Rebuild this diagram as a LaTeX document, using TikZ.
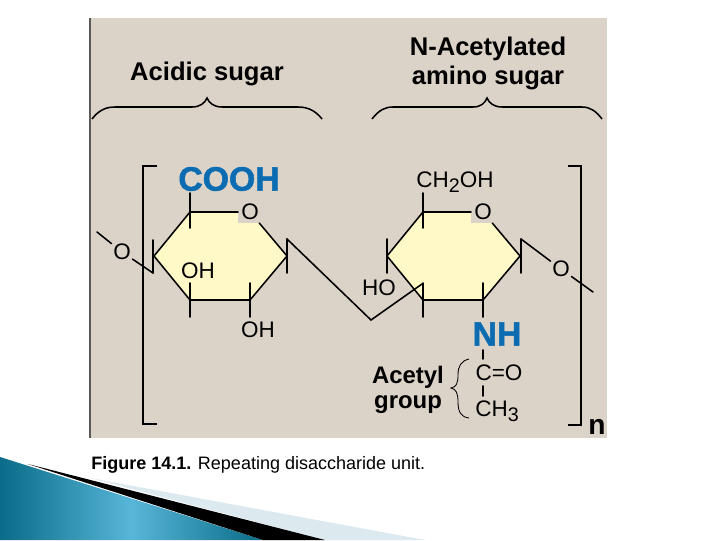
\documentclass[tikz,border=0pt]{standalone}
\usepackage{fontspec}
\setmainfont{Liberation Sans}
\newfontfamily\heavyfont[FakeBold=1.5]{Liberation Sans Bold}
\usepackage{tikz}
\definecolor{panelc}{HTML}{DBD2C8}
\definecolor{ringc}{HTML}{FFF9C8}
\definecolor{bluec}{HTML}{0B6CB2}
\definecolor{tealc}{HTML}{0A6C88}
\definecolor{skyc}{HTML}{58B6D8}
\definecolor{paleblue}{HTML}{DCEAF0}
\newcommand{\lowidx}[1]{\raisebox{-0.45ex}{\fontsize{14}{14}\selectfont #1}}
\tikzset{
	bond/.style={line width=1.1pt,line cap=round},
	bracket/.style={line width=1.7pt},
	curly/.style={line width=1.1pt},
	atom/.style={font=\fontsize{16}{16}\selectfont,inner sep=1pt},
	ringO/.style={atom,fill=panelc,inner sep=2pt},
	heading/.style={font=\fontsize{18.2}{20.6}\selectfont\bfseries,align=center,inner sep=0pt},
	strong/.style={font=\fontsize{24}{24}\selectfont\heavyfont,text=bluec,inner sep=1pt},
}
\begin{document}
\begin{tikzpicture}[x=0.025cm,y=-0.025cm]
	\useasboundingbox (0,0) rectangle (720,540);
	\fill[white] (0,0) rectangle (720,540);
	\fill[panelc] (90,18) rectangle (607,438);
	\draw[line width=0.8pt,black!65] (90,18)--(90,438);
	\shade[left color=tealc,right color=tealc,middle color=skyc] (0,457)--(263,540)--(0,540)--cycle;
	\fill[paleblue] (90,478)--(425,540)--(325,540)--cycle;
	\fill[black] (28,464)--(325,540)--(263,540)--cycle;
	\node[heading] (acidic) at (207,74) {Acidic sugar};
	\node[heading] (acetylated) at (488,63) {N-Acetylated\\amino sugar};
	\draw[curly] (92,119) .. controls (99,110) and (106,107) .. (115,107)--(192,107) .. controls (200,107) and (205,103) .. (207,98) .. controls (209,103) and (214,107) .. (222,107)--(298,107) .. controls (307,107) and (315,110) .. (322,119);
	\draw[curly] (372,119) .. controls (379,110) and (385,107) .. (393,107)--(473,107) .. controls (481,107) and (485,103) .. (487,98) .. controls (489,103) and (494,107) .. (502,107)--(582,107) .. controls (590,107) and (596,111) .. (602,119);
	\draw[bracket] (157,166)--(143,166)--(143,424)--(157,424);
	\draw[bracket] (568,166)--(581,166)--(581,425)--(568,425);
	\coordinate (A1) at (190,212);
	\coordinate (A2) at (287,256);
	\coordinate (A3) at (250,300);
	\coordinate (A4) at (190,300);
	\coordinate (A5) at (154,256);
	\coordinate (AO) at (250,212);
	\fill[ringc] (A1)--(AO)--(A2)--(A3)--(A4)--(A5)--cycle;
	\node[ringO] (Oa) at (AO) {O};
	\draw[bond] (Oa)--(A1)--(A5)--(A4)--(A3)--(A2)--(Oa);
	\draw[bond] (190,193)--(190,228);
	\draw[bond] (153,240)--(153,273);
	\draw[bond] (287,239)--(287,273);
	\draw[bond] (250,283)--(250,317);
	\draw[bond] (190,283)--(190,317);
	\coordinate (B1) at (423,212);
	\coordinate (B2) at (520,256);
	\coordinate (B3) at (483,300);
	\coordinate (B4) at (423,300);
	\coordinate (B5) at (387,256);
	\coordinate (BO) at (483,212);
	\fill[ringc] (B1)--(BO)--(B2)--(B3)--(B4)--(B5)--cycle;
	\node[ringO] (Ob) at (BO) {O};
	\draw[bond] (Ob)--(B1)--(B5)--(B4)--(B3)--(B2)--(Ob);
	\draw[bond] (423,193)--(423,228);
	\draw[bond] (387,239)--(387,273);
	\draw[bond] (521,239)--(521,273);
	\draw[bond] (483,283)--(483,317);
	\draw[bond] (423,283)--(423,317);
	\node[strong] (cooh) at (229,179) {COOH};
	\node[atom] (oha) at (198,271) {OH};
	\node[atom] (ohb) at (258,330) {OH};
	\node[atom] (ho) at (379,288) {HO};
	\node[atom] (choh) at (455,182) {CH\lowidx{2}OH};
	\node[atom] (Ol) at (122,252) {O};
	\node[atom] (Or) at (561,269) {O};
	\coordinate (Lfree) at (97,232);
	\coordinate (Rfree) at (593,292);
	\coordinate (Ltop) at (153,273);
	\coordinate (Atop) at (287,239);
	\coordinate (Bend) at (371,320);
	\coordinate (Btop) at (422,284);
	\coordinate (Rtop) at (521,239);
	\draw[bond] (Lfree)--(Ol) (Ol)--(Ltop);
	\draw[bond] (Atop)--(Bend)--(Btop);
	\draw[bond] (Rtop)--(Or) (Or)--(Rfree);
	\node[strong] (nh) at (497,334) {NH};
	\node[atom] (co) at (499,373) {C=O};
	\node[atom] (chc) at (497,411) {CH\lowidx{3}};
	\draw[bond] (483,350)--(483,359);
	\draw[bond] (483,386)--(483,396);
	\draw[line width=0.6pt] (469,359) .. controls (461,361) and (458,366) .. (458,375) .. controls (458,384) and (456,387) .. (451,388) .. controls (456,389) and (458,393) .. (458,402) .. controls (458,412) and (461,417) .. (469,418);
	\node[heading,font=\fontsize{17}{18}\selectfont\bfseries] (acetyl) at (408,390) {Acetyl\\group};
	\node[font=\fontsize{20}{20}\selectfont\bfseries,inner sep=0pt] (n) at (597,427) {n};
	\node[anchor=west,inner sep=0pt,font=\fontsize{12.8}{15}\selectfont] (caption) at (91,465) {\textbf{Figure 14.1.} Repeating disaccharide unit.};
\end{tikzpicture}
\end{document}
